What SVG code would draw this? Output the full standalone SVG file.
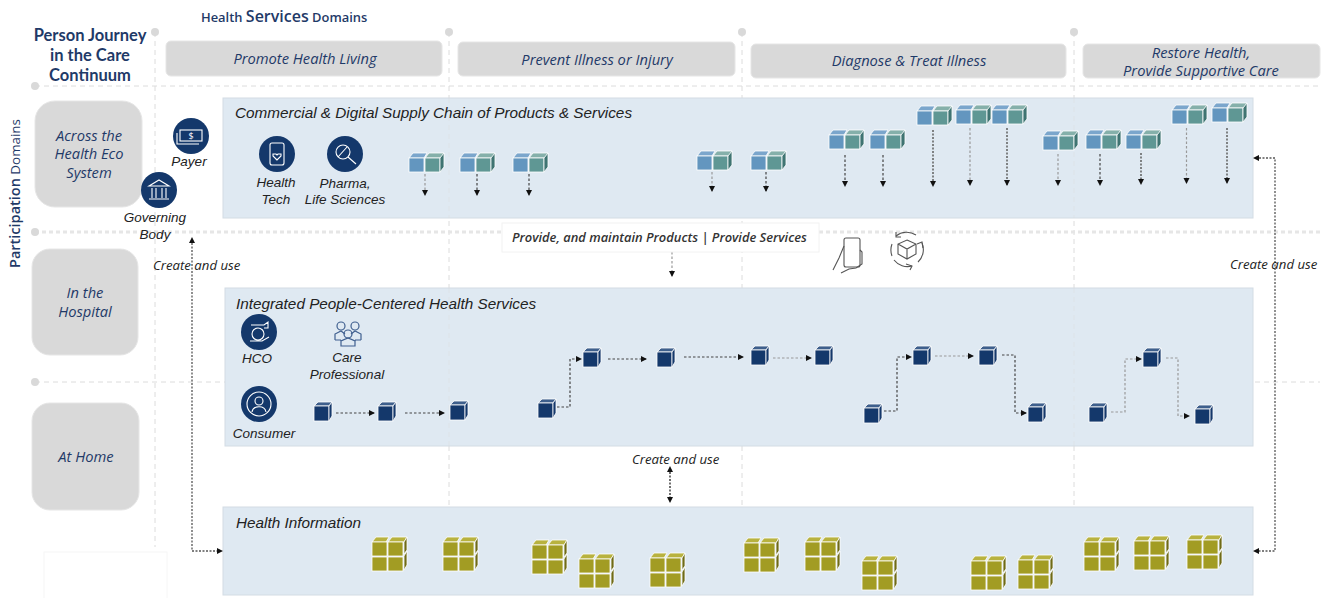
<svg xmlns="http://www.w3.org/2000/svg" xmlns:xlink="http://www.w3.org/1999/xlink" width="1326" height="598" viewBox="0 0 1326 598">
<style>
text{font-family:"Open Sans","Noto Sans",sans-serif}
.head{fill:#1f3a68;font-family:Lato,"Open Sans",sans-serif;font-weight:700;font-size:16.5px;text-anchor:middle}
.dom{fill:#1f3a68;font-style:italic;font-size:14.7px;text-anchor:middle}
.ptitle{font-family:"Liberation Sans",Arial,sans-serif;font-style:italic;font-size:15.3px;fill:#222}
.lab{font-family:"Liberation Sans",Arial,sans-serif;font-style:italic;font-size:13.5px;fill:#222;text-anchor:middle}
.note{font-style:italic;font-size:13.2px;fill:#222}
.grey{fill:#d9d9d9;stroke:#e6e6e6;stroke-width:1}
.panel{fill:#dfe9f2;stroke:#d3dce4;stroke-width:1}
.grid{stroke:#dcdcdc;stroke-width:1;stroke-dasharray:5 4;fill:none}
.gridb{stroke:#e6e6e6;stroke-width:3;stroke-dasharray:4 3;fill:none}
.dot{fill:#d9d9d9}
.c{fill:none;stroke:#444;stroke-width:1.2;stroke-dasharray:2.5 2;marker-end:url(#ah)}
.cl{fill:none;stroke:#999;stroke-width:1.2;stroke-dasharray:2.5 2;marker-end:url(#ah)}
.cd{fill:none;stroke:#555;stroke-width:1.4;stroke-dasharray:2 1.5;marker-end:url(#ah)}
.ic{fill:#14386b}
.gl{fill:none;stroke:#fff;stroke-width:1.1}
.gn{fill:none;stroke:#3f5f8f;stroke-width:1.2}
.gk{fill:none;stroke:#555;stroke-width:1.1}
</style>
<defs>
<marker id="ah" markerWidth="7" markerHeight="7" refX="5" refY="3" orient="auto" markerUnits="userSpaceOnUse"><path d="M0 0L6 3L0 6Z" fill="#111"/></marker>
<g id="dbl" stroke="#fff" stroke-width="0.8">
<path d="M0 0l4-5h14l-3 5z" fill="#7ba6cc"/><rect x="0" y="0" width="15" height="14" fill="#6396bf"/>
<path d="M16 0l4-5h15l-3 5z" fill="#85b0aa"/><rect x="16" y="0" width="15" height="14" fill="#5f9794"/>
<path d="M31 0l4-5v14l-4 5z" fill="#3f7472"/>
</g>
<g id="nav" stroke="#fff" stroke-width="0.8">
<path d="M0 0l4-4h14l-3 4z" fill="#3e5f8c"/><rect x="0" y="0" width="15" height="15" fill="#14386b"/>
<path d="M15 0l3-4v14l-3 5z" fill="#14386b"/>
</g>
<g id="quad" stroke="#fff" stroke-width="0.8">
<path d="M0 0l4-5h13l-3 5zM16 0l4-5h15l-3 5z" fill="#b8b23f"/>
<rect x="0" y="0" width="15" height="14" fill="#a29c23"/><rect x="16" y="0" width="15" height="14" fill="#a29c23"/>
<rect x="0" y="15" width="15" height="14" fill="#a29c23"/><rect x="16" y="15" width="15" height="14" fill="#a29c23"/>
<path d="M32 0l3-5v13l-3 4zM32 14l3-5v14l-3 5z" fill="#6f6b17"/>
</g>
</defs>

<g id="grid">
<path class="grid" d="M155 32V547M449 32V506M742 32V288M742 446V506M1074 32V506M35 86H1320M35 382H225M1255 382H1320"/>
<path class="gridb" d="M35 232H1320"/>
<circle class="dot" cx="155" cy="32" r="4"/><circle class="dot" cx="449" cy="32" r="4"/><circle class="dot" cx="742" cy="32" r="4"/><circle class="dot" cx="1074" cy="32" r="4"/>
<circle class="dot" cx="35" cy="86" r="4"/><circle class="dot" cx="35" cy="232" r="4"/><circle class="dot" cx="35" cy="382" r="4"/>
</g>

<rect x="44" y="552" width="123" height="47" fill="#fff" stroke="#f6f6f6"/>

<g id="headings">
<text x="201" y="22" fill="#1f3a68" font-weight="600" font-size="12.9">Health <tspan font-size="16">Services</tspan> Domains</text>
<text class="head" x="90" y="41">Person Journey</text><text class="head" x="90" y="61">in the Care</text><text class="head" x="90" y="81">Continuum</text>
<text transform="translate(20 268) rotate(-90)" fill="#1f3a68" font-size="13.400"><tspan font-weight="600" font-size="14.500">Participation</tspan> Domains</text>
</g>

<g id="svc-promote"><rect class="grey" x="166" y="41" width="276" height="35" rx="5"/><text class="dom" x="305" y="64">Promote Health Living</text></g>
<g id="svc-prevent"><rect class="grey" x="458" y="42" width="277" height="34" rx="5"/><text class="dom" x="597" y="65">Prevent Illness or Injury</text></g>
<g id="svc-diagnose"><rect class="grey" x="751" y="44" width="315" height="34" rx="5"/><text class="dom" x="909" y="66">Diagnose &amp; Treat Illness</text></g>
<g id="svc-restore"><rect class="grey" x="1083" y="44" width="237" height="34" rx="5"/><text class="dom" x="1201" y="58">Restore Health,</text><text class="dom" x="1201" y="76">Provide Supportive Care</text></g>

<g id="dom-eco"><rect class="grey" x="35" y="101" width="107" height="106" rx="20"/><text class="dom" x="89" y="141">Across the</text><text class="dom" x="89" y="159">Health Eco</text><text class="dom" x="89" y="178">System</text></g>
<g id="dom-hospital"><rect class="grey" x="32" y="249" width="106" height="106" rx="18"/><text class="dom" x="85" y="298">In the</text><text class="dom" x="85" y="317">Hospital</text></g>
<g id="dom-home"><rect class="grey" x="32" y="403" width="107" height="107" rx="18"/><text class="dom" x="86" y="462">At Home</text></g>

<g id="panel-commercial"><rect class="panel" x="223" y="98" width="1030" height="120"/><text class="ptitle" x="235" y="118">Commercial &amp; Digital Supply Chain of Products &amp; Services</text></g>
<g id="panel-integrated"><rect class="panel" x="225" y="288" width="1028" height="158"/><text class="ptitle" x="236" y="309">Integrated People-Centered Health Services</text></g>
<g id="panel-info"><rect class="panel" x="223" y="507" width="1030" height="88"/><text class="ptitle" x="236" y="528">Health Information</text></g>
<path class="grid" d="M449 98V218M449 288V446M1074 98V218M1074 288V446" opacity="0.45"/>

<g id="connectors">
<path class="cl" d="M425 174V195"/><path class="c" d="M477 174V195"/><path class="c" d="M529 174V195"/>
<path class="cl" d="M712 172V191"/><path class="c" d="M766 172V191"/>
<path class="c" d="M845 155V186"/><path class="c" d="M883 155V186"/><path class="cd" d="M933 130V186"/><path class="cl" d="M970 128V185"/><path class="cd" d="M1007 128V185"/><path class="cl" d="M1058 154V185"/><path class="c" d="M1100 154V185"/><path class="cd" d="M1141 153V184"/><path class="cl" d="M1186.500 128V183"/><path class="cd" d="M1227 128V183"/>
<path class="cl" d="M672 252V276"/>
<path class="c" d="M336 413H374"/><path class="c" d="M405 413H444"/>
<path class="c" d="M557 407H570V359H581"/><path class="c" d="M608 359H646"/><path class="c" d="M684 357H743"/><path class="cl" d="M773 358H811"/>
<path class="c" d="M884 411H897V357H911"/><path class="cl" d="M935 356H973"/><path class="c" d="M1002 355H1015V413H1026"/>
<path class="cl" d="M1111 412H1125V359H1141"/><path class="cl" d="M1166 358H1178V416H1189"/>
<path fill="none" stroke="#555" stroke-width="1.3" stroke-dasharray="2 1.500" d="M192 243V551H218"/>
<path d="M192 237l-3 6h6zM223 551l-6-3v6z" fill="#111"/>
<path fill="none" stroke="#555" stroke-width="1.3" stroke-dasharray="2 1.500" d="M1259 158H1275V551H1259"/>
<path d="M1253 158l6-3v6zM1253 551l6-3v6z" fill="#111"/>
<path fill="none" stroke="#222" stroke-width="1.300" stroke-dasharray="2 1.500" d="M670 472V497"/>
<path d="M670 466l-3 6h6zM670 503l-3-6h6z" fill="#111"/>
</g>

<g id="labels">
<rect x="502" y="223" width="317" height="29" fill="#fff" stroke="#f2f2f2"/>
<text x="512" y="242" font-size="12.900" font-style="italic" font-weight="600" fill="#333">Provide, and maintain Products  | Provide Services</text>
<text class="note" x="153" y="270">Create and use</text>
<text class="note" x="1230" y="269">Create and use</text>
<text class="note" x="632" y="464">Create and use</text>
</g>

<g id="cubes-supply">
<use href="#dbl" x="409" y="158"/><use href="#dbl" x="460" y="158"/><use href="#dbl" x="513" y="158"/><use href="#dbl" x="697" y="156"/><use href="#dbl" x="751" y="156"/>
<use href="#dbl" x="829" y="135"/><use href="#dbl" x="870" y="135"/><use href="#dbl" x="917" y="111"/><use href="#dbl" x="956" y="110"/><use href="#dbl" x="992" y="110"/><use href="#dbl" x="1043" y="136"/><use href="#dbl" x="1086" y="135"/><use href="#dbl" x="1126" y="135"/><use href="#dbl" x="1172" y="110"/><use href="#dbl" x="1212" y="108"/>
</g>
<g id="cubes-services">
<use href="#nav" x="314" y="406"/><use href="#nav" x="378" y="406"/><use href="#nav" x="450" y="405"/><use href="#nav" x="538" y="403"/><use href="#nav" x="583" y="352"/><use href="#nav" x="657" y="352"/><use href="#nav" x="751" y="350"/><use href="#nav" x="815" y="350"/>
<use href="#nav" x="864" y="408"/><use href="#nav" x="913" y="350"/><use href="#nav" x="979" y="350"/><use href="#nav" x="1028" y="407"/><use href="#nav" x="1089" y="407"/><use href="#nav" x="1143" y="352"/><use href="#nav" x="1195" y="409"/>
</g>
<g id="cubes-info">
<use href="#quad" x="372" y="542"/><use href="#quad" x="443" y="542"/><use href="#quad" x="532" y="545"/><use href="#quad" x="579" y="559"/><use href="#quad" x="650" y="558"/><use href="#quad" x="744" y="543"/><use href="#quad" x="805" y="542"/><use href="#quad" x="862" y="561"/><use href="#quad" x="971" y="561"/><use href="#quad" x="1018" y="560"/><use href="#quad" x="1084" y="542"/><use href="#quad" x="1134" y="541"/><use href="#quad" x="1187" y="540"/>
</g>

<g id="actor-payer"><circle class="ic" cx="191" cy="136" r="18"/><rect class="gl" x="180" y="130" width="22" height="11"/><path class="gl" d="M177 133v11h22"/><text x="191" y="139" font-size="9" fill="#fff" text-anchor="middle" font-family="Liberation Sans,sans-serif">$</text><text class="lab" x="189" y="166">Payer</text></g>
<g id="actor-governing"><circle class="ic" cx="159" cy="190" r="18"/><path class="gl" d="M149 186l10-6 10 6zM152 188v10M156 188v10M162 188v10M166 188v10M149 199h20"/><text class="lab" x="155" y="222">Governing</text><text class="lab" x="155" y="239">Body</text></g>
<g id="actor-healthtech"><circle class="ic" cx="277" cy="154" r="18"/><rect class="gl" x="270" y="143" width="14" height="22" rx="2"/><path class="gl" d="M277 160l-4-4v-2h3l1 1 1-1h3v2z"/><text class="lab" x="276" y="187">Health</text><text class="lab" x="276" y="204">Tech</text></g>
<g id="actor-pharma"><circle class="ic" cx="345" cy="154" r="18"/><circle class="gl" cx="343" cy="152" r="7"/><path class="gl" d="M348 157l8 7M338 157l9-10"/><text class="lab" x="345" y="188">Pharma,</text><text class="lab" x="345" y="204">Life Sciences</text></g>
<g id="actor-hco"><circle class="ic" cx="259" cy="332" r="18"/><path class="gl" d="M251 325h13l4-3v6h-4M250 341h12l7-4M252 334a6 6 0 1 0 12 0a6 6 0 1 0-12 0"/><text class="lab" x="257" y="363">HCO</text></g>
<g id="actor-care"><circle class="gn" cx="341" cy="326" r="4"/><circle class="gn" cx="355" cy="326" r="4"/><circle class="gn" cx="348" cy="334" r="4"/><path class="gn" d="M335 340v-6l6-3 4 3M361 340v-6l-6-3-4 3M341 346v-5l7-3 7 3v5zM335 340h6M355 340h6"/><text class="lab" x="347" y="362">Care</text><text class="lab" x="347" y="379">Professional</text></g>
<g id="actor-consumer"><circle class="ic" cx="259" cy="404" r="18"/><circle class="gl" cx="259" cy="404" r="12"/><circle class="gl" cx="259" cy="401" r="4"/><path class="gl" d="M252 412c1-7 13-7 14 0"/><text class="lab" x="264" y="438">Consumer</text></g>
<g id="icon-phone"><rect class="gk" x="844" y="238" width="16" height="29" rx="2"/><path class="gk" d="M844 246l-5 12-6 12M860 250l2 2v12l-6 4-7 1-8 4"/></g>
<g id="icon-box"><path class="gk" d="M907 240l9 4v10l-9 5-9-5v-10zM898 244l9 5 9-5M907 249v10"/><path class="gk" d="M896 236a17 17 0 0 1 20-1M922 243a17 17 0 0 1-4 19M912 266a17 17 0 0 1-18-6M892 256a17 17 0 0 1 0-12"/><path class="gk" d="M896 232v5h5M923 248l-1-6-5 2M906 264l6 2-2 4"/></g>
</svg>
